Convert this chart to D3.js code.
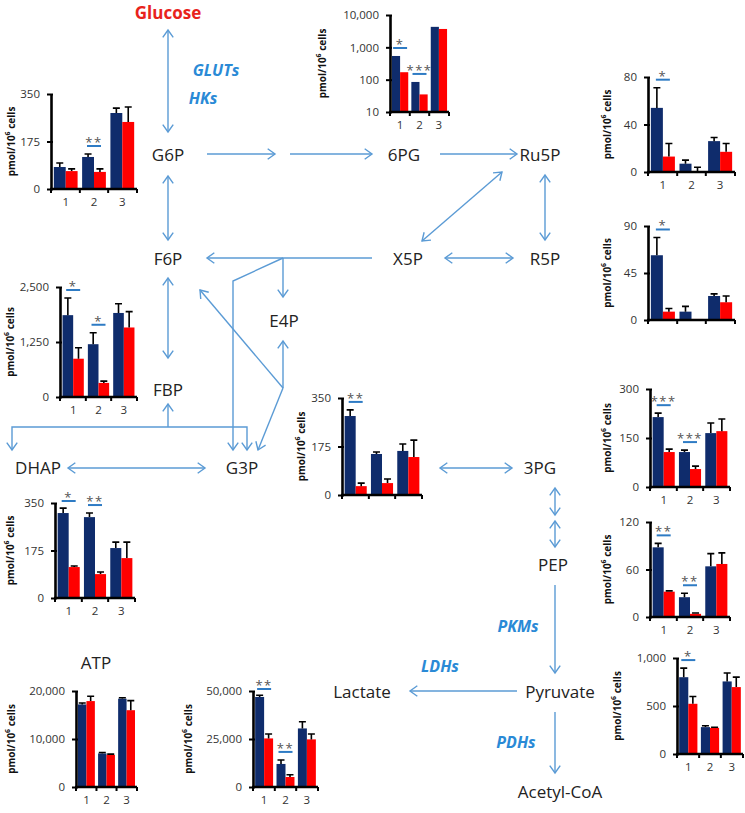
<!DOCTYPE html>
<html><head><meta charset="utf-8">
<script src="https://cdn.jsdelivr.net/npm/d3@7"></script>
<style>body{margin:0;background:#fff}svg{display:block}</style>
</head><body>
<svg id="c" width="745" height="813"></svg>
<script>
// ---------- DATA ----------
const groups = ["1", "2", "3"];

const g6pCtrl = [81, 118, 280],   g6pCtrlSD = [15, 11, 18];
const g6pTreat = [66, 63, 247],   g6pTreatSD = [8, 11, 55];
const g6pSig = ["", "**", ""];
const g6pTicks = [0, 175, 350];

const pg6Ctrl = [540, 85, 4300],  pg6CtrlSD = [0, 0, 0];
const pg6Treat = [170, 35, 3700], pg6TreatSD = [0, 0, 0];
const pg6Sig = ["*", "***", ""];
const pg6Ticks = [10, 100, 1000, 10000];

const ru5pCtrl = [54, 7, 26],     ru5pCtrlSD = [17, 3, 3];
const ru5pTreat = [13, 0.5, 17],  ru5pTreatSD = [11, 3.5, 7];
const ru5pSig = ["*", "", ""];
const ru5pTicks = [0, 40, 80];

const r5pCtrl = [62, 8, 23],      r5pCtrlSD = [17, 5, 2];
const r5pTreat = [8, 1, 17],      r5pTreatSD = [3, 0, 6];
const r5pSig = ["*", "", ""];
const r5pTicks = [0, 45, 90];

const f6pCtrl = [1860, 1200, 1910], f6pCtrlSD = [390, 260, 210];
const f6pTreat = [870, 320, 1580],  f6pTreatSD = [250, 40, 360];
const f6pSig = ["*", "*", ""];
const f6pTicks = [0, 1250, 2500];

const g3pCtrl = [285, 148, 159],  g3pCtrlSD = [22, 7, 25];
const g3pTreat = [32, 43, 137],   g3pTreatSD = [11, 15, 61];
const g3pSig = ["**", "", ""];
const g3pTicks = [0, 175, 350];

const dhapCtrl = [313, 298, 184], dhapCtrlSD = [18, 15, 22];
const dhapTreat = [114, 88, 147], dhapTreatSD = [4, 8, 59];
const dhapSig = ["*", "**", ""];
const dhapTicks = [0, 175, 350];

const pg3Ctrl = [214, 107, 165],  pg3CtrlSD = [12, 6, 31];
const pg3Treat = [107, 55, 171],  pg3TreatSD = [9, 9, 37];
const pg3Sig = ["***", "***", ""];
const pg3Ticks = [0, 150, 300];

const pepCtrl = [88, 25, 64],     pepCtrlSD = [5, 5, 16];
const pepTreat = [32, 4, 67],     pepTreatSD = [1, 1, 14];
const pepSig = ["**", "**", ""];
const pepTicks = [0, 60, 120];

const atpCtrl = [17200, 7000, 18400], atpCtrlSD = [300, 200, 200];
const atpTreat = [17900, 6700, 16000], atpTreatSD = [1000, 150, 2000];
const atpSig = ["", "", ""];
const atpTicks = [0, 10000, 20000];

const lacCtrl = [46900, 12000, 30500], lacCtrlSD = [900, 2100, 3500];
const lacTreat = [25300, 5200, 24800], lacTreatSD = [2300, 1200, 2800];
const lacSig = ["**", "**", ""];
const lacTicks = [0, 25000, 50000];

const pyrCtrl = [800, 280, 756],  pyrCtrlSD = [95, 14, 87];
const pyrTreat = [523, 272, 697], pyrTreatSD = [76, 7, 104];
const pyrSig = ["*", "", ""];
const pyrTicks = [0, 500, 1000];

const metabolites = ["G6P", "6PG", "Ru5P", "F6P", "X5P", "R5P", "E4P", "FBP", "DHAP", "G3P", "3PG", "PEP", "Lactate", "Pyruvate", "Acetyl-CoA", "ATP"];
const enzymes = ["GLUTs", "HKs", "PKMs", "LDHs", "PDHs"];
const yTitle = ["pmol/10", "6", " cells"];

// ---------- LAYOUT ----------
const svg = d3.select("#c");
const NAVY = "#0f2c6c", RED = "#ff0000", BLUE = "#5b9bd5", ENZ = "#2a8ad6";
const FONT = "'Open Sans', sans-serif";

const charts = [
  {c: g6pCtrl, cs: g6pCtrlSD, t: g6pTreat, ts: g6pTreatSD, sig: g6pSig, ticks: g6pTicks, x0: 51, x1: 137, top: 94, bottom: 189, tx: 11, xl: true},
  {c: pg6Ctrl, cs: pg6CtrlSD, t: pg6Treat, ts: pg6TreatSD, sig: pg6Sig, ticks: pg6Ticks, x0: 390, x1: 449, top: 15, bottom: 112, tx: 322, xl: true, log: true},
  {c: ru5pCtrl, cs: ru5pCtrlSD, t: ru5pTreat, ts: ru5pTreatSD, sig: ru5pSig, ticks: ru5pTicks, x0: 648, x1: 735, top: 77, bottom: 172, tx: 607, xl: true},
  {c: r5pCtrl, cs: r5pCtrlSD, t: r5pTreat, ts: r5pTreatSD, sig: r5pSig, ticks: r5pTicks, x0: 648, x1: 735, top: 226, bottom: 320, tx: 607, xl: false},
  {c: f6pCtrl, cs: f6pCtrlSD, t: f6pTreat, ts: f6pTreatSD, sig: f6pSig, ticks: f6pTicks, x0: 60, x1: 137, top: 287, bottom: 397, tx: 10, xl: true},
  {c: g3pCtrl, cs: g3pCtrlSD, t: g3pTreat, ts: g3pTreatSD, sig: g3pSig, ticks: g3pTicks, x0: 342, x1: 422, top: 398, bottom: 495, tx: 301, xl: false},
  {c: dhapCtrl, cs: dhapCtrlSD, t: dhapTreat, ts: dhapTreatSD, sig: dhapSig, ticks: dhapTicks, x0: 55, x1: 135, top: 503, bottom: 598, tx: 10, xl: true},
  {c: pg3Ctrl, cs: pg3CtrlSD, t: pg3Treat, ts: pg3TreatSD, sig: pg3Sig, ticks: pg3Ticks, x0: 650, x1: 730, top: 389, bottom: 487, tx: 607, xl: true},
  {c: pepCtrl, cs: pepCtrlSD, t: pepTreat, ts: pepTreatSD, sig: pepSig, ticks: pepTicks, x0: 650, x1: 730, top: 522, bottom: 617, tx: 607, xl: true},
  {c: atpCtrl, cs: atpCtrlSD, t: atpTreat, ts: atpTreatSD, sig: atpSig, ticks: atpTicks, x0: 76, x1: 137, top: 691, bottom: 787, tx: 11, xl: true},
  {c: lacCtrl, cs: lacCtrlSD, t: lacTreat, ts: lacTreatSD, sig: lacSig, ticks: lacTicks, x0: 253, x1: 318, top: 691, bottom: 787, tx: 188, xl: true},
  {c: pyrCtrl, cs: pyrCtrlSD, t: pyrTreat, ts: pyrTreatSD, sig: pyrSig, ticks: pyrTicks, x0: 677, x1: 743, top: 658, bottom: 754, tx: 617, xl: true}
];

function drawChart(ch) {
  const g = svg.append("g");
  const x = d3.scaleBand().domain(groups).range([ch.x0, ch.x1]).paddingInner(0.16).paddingOuter(0.1);
  const sub = d3.scaleBand().domain([0, 1]).range([0, x.bandwidth()]);
  const maxT = ch.ticks[ch.ticks.length - 1];
  const y = ch.log ? d3.scaleLog().domain([ch.ticks[0], maxT]).range([ch.bottom, ch.top])
                   : d3.scaleLinear().domain([0, maxT]).range([ch.bottom, ch.top]);
  const base = ch.log ? ch.ticks[0] : 0;
  const rows = [];
  groups.forEach((gname, i) => {
    rows.push({g: gname, k: 0, v: ch.c[i], sd: ch.cs[i], col: NAVY});
    rows.push({g: gname, k: 1, v: ch.t[i], sd: ch.ts[i], col: RED});
  });
  g.selectAll("rect.bar").data(rows).join("rect")
    .attr("x", d => x(d.g) + sub(d.k))
    .attr("width", sub.bandwidth())
    .attr("y", d => y(Math.max(d.v, base)))
    .attr("height", d => y(base) - y(Math.max(d.v, base)))
    .attr("fill", d => d.col);
  const eb = rows.filter(d => d.sd > 0);
  g.selectAll("path.err").data(eb).join("path")
    .attr("d", d => {
      const cx = x(d.g) + sub(d.k) + sub.bandwidth() / 2;
      const y1 = y(Math.max(d.v, base)), y2 = y(d.v + d.sd);
      return `M${cx},${y1}V${y2}M${cx - 3.5},${y2}H${cx + 3.5}`;
    })
    .attr("stroke", "#000").attr("stroke-width", 1.6).attr("fill", "none");
  const fmt = d3.format(",");
  const ya = d3.axisLeft(y).tickValues(ch.ticks).tickFormat(fmt).tickSizeInner(4).tickSizeOuter(0).tickPadding(7);
  const yg = g.append("g").attr("transform", `translate(${ch.x0},0)`).call(ya);
  yg.select(".domain").attr("stroke", "#000").attr("stroke-width", 2.6);
  yg.selectAll(".tick line").attr("stroke", "#000").attr("stroke-width", 2).attr("x2", -4).attr("x1", 2);
  yg.selectAll(".tick text").attr("font-family", FONT).attr("font-size", 11.5).attr("fill", "#333");
  const bounds = [ch.x0].concat(groups.slice(0, 2).map(d => x(d) + x.bandwidth() + x.step() * x.paddingInner() / 2)).concat([ch.x1]);
  g.append("line").attr("x1", ch.x0 - 1).attr("x2", ch.x1).attr("y1", ch.bottom).attr("y2", ch.bottom)
    .attr("stroke", "#000").attr("stroke-width", 2.6);
  g.selectAll("line.xt").data(bounds).join("line")
    .attr("x1", d => d).attr("x2", d => d).attr("y1", ch.bottom).attr("y2", ch.bottom + 4)
    .attr("stroke", "#000").attr("stroke-width", 2);
  if (ch.xl) {
    g.selectAll("text.xl").data(groups).join("text")
      .attr("x", d => x(d) + x.bandwidth() / 2).attr("y", ch.bottom + 17)
      .attr("text-anchor", "middle").attr("font-family", FONT).attr("font-size", 11.5).attr("fill", "#333")
      .text(d => d);
  }
  groups.forEach((gname, i) => {
    if (!ch.sig[i]) return;
    const topVal = Math.max(ch.c[i] + ch.cs[i], ch.t[i] + ch.ts[i]);
    const ly = Math.max(y(topVal) - 8, ch.top - 2);
    const cx = x(gname) + x.bandwidth() / 2;
    g.append("line").attr("x1", cx - 7).attr("x2", cx + 7).attr("y1", ly).attr("y2", ly)
      .attr("stroke", "#2e7bc4").attr("stroke-width", 2);
    g.append("text").attr("x", cx).attr("y", ly + 1).attr("text-anchor", "middle")
      .attr("font-family", FONT).attr("font-size", 13).attr("fill", "#555").attr("letter-spacing", 1.5)
      .text(ch.sig[i]);
  });
  const t = g.append("text")
    .attr("transform", `translate(${ch.tx},${(ch.top + ch.bottom) / 2}) rotate(-90)`)
    .attr("text-anchor", "middle").attr("dominant-baseline", "central")
    .attr("font-family", FONT).attr("font-size", 10).attr("font-weight", "bold").attr("fill", "#111");
  t.append("tspan").text(yTitle[0]);
  t.append("tspan").attr("dy", -4).attr("font-size", 7).text(yTitle[1]);
  t.append("tspan").attr("dy", 4).text(yTitle[2]);
}
charts.forEach(drawChart);

// ---------- NETWORK ----------
const nodePos = {
  "G6P": [168, 155], "6PG": [404, 155], "Ru5P": [540, 155],
  "F6P": [168, 259], "X5P": [408, 259], "R5P": [545, 259],
  "E4P": [284, 321], "FBP": [168, 390], "DHAP": [38, 468],
  "G3P": [242, 468], "3PG": [540, 468], "PEP": [553, 565],
  "Lactate": [362, 692], "Pyruvate": [560, 692], "Acetyl-CoA": [560, 792], "ATP": [96, 663]
};
svg.selectAll("text.node").data(metabolites).join("text")
  .attr("x", d => nodePos[d][0]).attr("y", d => nodePos[d][1] + 6)
  .attr("text-anchor", "middle").attr("font-family", FONT).attr("font-size", 17).attr("fill", "#222")
  .text(d => d);

svg.append("text").attr("x", 168).attr("y", 19).attr("text-anchor", "middle")
  .attr("font-family", FONT).attr("font-size", 17).attr("font-weight", "bold").attr("fill", "#e8231c").text("Glucose");

const enzPos = {"GLUTs": [216, 76], "HKs": [203, 104], "PKMs": [518, 632], "LDHs": [440, 672], "PDHs": [516, 748]};
svg.selectAll("text.enz").data(enzymes).join("text")
  .attr("x", d => enzPos[d][0]).attr("y", d => enzPos[d][1])
  .attr("text-anchor", "middle").attr("font-family", FONT).attr("font-size", 16)
  .attr("font-weight", "bold").attr("font-style", "italic").attr("fill", ENZ)
  .text(d => d);

const arrows = [
  {p: [[168, 30], [168, 132]], s: 1, e: 1},
  {p: [[207, 154], [275, 154]], e: 1},
  {p: [[290, 154], [372, 154]], e: 1},
  {p: [[440, 154], [517, 154]], e: 1},
  {p: [[502, 172], [422, 241]], s: 1, e: 1},
  {p: [[545, 175], [545, 240]], s: 1, e: 1},
  {p: [[445, 258], [513, 258]], s: 1, e: 1},
  {p: [[372, 258], [207, 258]], e: 1},
  {p: [[168, 176], [168, 240]], s: 1, e: 1},
  {p: [[283, 258], [283, 297]], e: 1},
  {p: [[283, 258], [233, 281], [233, 450]], e: 1},
  {p: [[168, 278], [168, 358]], s: 1, e: 1},
  {p: [[283, 388], [283, 341]], e: 1},
  {p: [[283, 388], [200, 290]], e: 1},
  {p: [[283, 388], [258, 450]], e: 1},
  {p: [[168, 427], [168, 404]], e: 1},
  {p: [[12, 450], [12, 427], [247, 427], [247, 450]], s: 1, e: 1},
  {p: [[68, 468], [205, 468]], s: 1, e: 1},
  {p: [[440, 468], [512, 468]], s: 1, e: 1},
  {p: [[555, 488], [555, 515]], s: 1, e: 1},
  {p: [[555, 521], [555, 547]], s: 1, e: 1},
  {p: [[555, 585], [555, 673]], e: 1},
  {p: [[517, 691], [410, 691]], e: 1},
  {p: [[555, 712], [555, 773]], e: 1}
];
function head(tip, from) {
  const a = Math.atan2(tip[1] - from[1], tip[0] - from[0]);
  const L = 9, w = 0.62;
  const p1 = [tip[0] - L * Math.cos(a - w), tip[1] - L * Math.sin(a - w)];
  const p2 = [tip[0] - L * Math.cos(a + w), tip[1] - L * Math.sin(a + w)];
  return `M${p1}L${tip}L${p2}`;
}
const line = d3.line();
const ag = svg.append("g").attr("fill", "none").attr("stroke", BLUE).attr("stroke-width", 1.4);
arrows.forEach(a => {
  ag.append("path").attr("d", line(a.p));
  const n = a.p.length;
  if (a.e) ag.append("path").attr("d", head(a.p[n - 1], a.p[n - 2]));
  if (a.s) ag.append("path").attr("d", head(a.p[0], a.p[1]));
});
</script>
</body></html>
